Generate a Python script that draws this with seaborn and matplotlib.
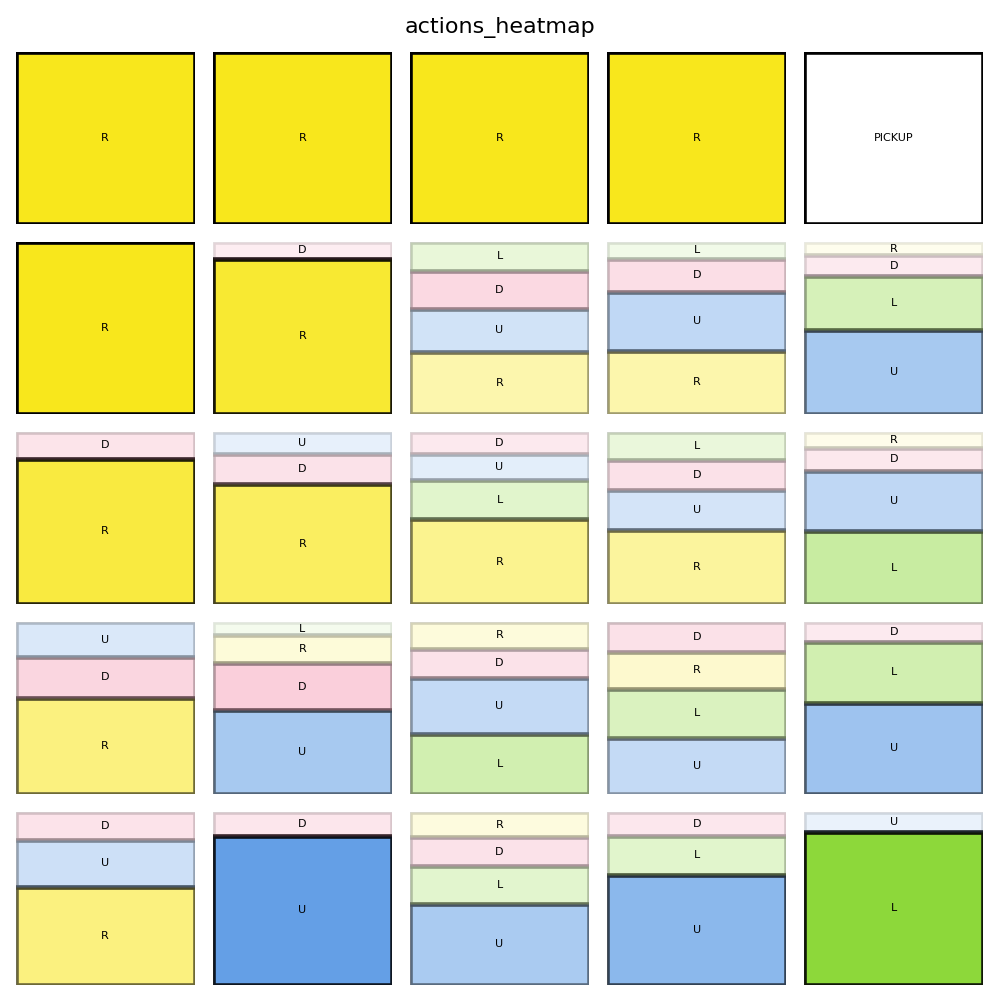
import matplotlib
matplotlib.use("Agg")
import matplotlib.pyplot as plt
import seaborn as sns
import numpy as np

sns.set_theme(style="white")
plt.rcParams['font.family'] = ['DejaVu Sans']

# action order and colours
actions = ["U", "D", "L", "R"]
action_colors = {"U": "#4a90e2", "D": "#ed537f", "L": "#7ed321", "R": "#f8e71c"}

# probabilities per grid cell (rows top->bottom, cols left->right)
probs_U = [
    [0.0, 0.0, 0.0, 0.0, 0.0],
    [0.0, 0.0, 0.25, 0.345, 0.485],
    [0.0, 0.13, 0.152, 0.234, 0.351],
    [0.203, 0.488, 0.326, 0.327, 0.533],
    [0.276, 0.86, 0.467, 0.638, 0.115],
]
probs_D = [
    [0.0, 0.0, 0.0, 0.0, 0.0],
    [0.0, 0.10, 0.22, 0.19, 0.12],
    [0.155, 0.17, 0.127, 0.173, 0.134],
    [0.236, 0.273, 0.169, 0.173, 0.116],
    [0.159, 0.14, 0.17, 0.136, 0.0],
]
probs_L = [
    [0.0, 0.0, 0.0, 0.0, 0.0],
    [0.0, 0.0, 0.17, 0.10, 0.315],
    [0.0, 0.0, 0.228, 0.162, 0.423],
    [0.0, 0.077, 0.351, 0.285, 0.351],
    [0.0, 0.0, 0.219, 0.227, 0.885],
]
probs_R = [
    [1.0, 1.0, 1.0, 1.0, 0.0],
    [1.0, 0.90, 0.36, 0.365, 0.08],
    [0.845, 0.70, 0.493, 0.431, 0.092],
    [0.561, 0.163, 0.155, 0.215, 0.0],
    [0.566, 0.0, 0.144, 0.0, 0.0],
]
pickup_cells = [(0, 4)]
pickup_label = "PICKUP"
title = "actions_heatmap"

probs = {"U": probs_U, "D": probs_D, "L": probs_L, "R": probs_R}

fig = plt.figure(figsize=(10, 10), dpi=100)
axes = fig.subplots(5, 5)
fig.subplots_adjust(left=0.0155, right=0.9835, bottom=0.0155, top=0.9485,
                    wspace=0.1, hspace=0.105)

for r in range(5):
    for c in range(5):
        ax = axes[r][c]
        ax.set_xlim(0, 1)
        ax.set_ylim(0, 1)
        ax.axis("off")
        if (r, c) in pickup_cells:
            ax.bar(0.5, 1.0, width=1.0, bottom=0.0, color="white",
                   edgecolor="black", linewidth=3.3)
            ax.text(0.5, 0.5, pickup_label, ha="center", va="center",
                    fontsize=8, color="black")
            continue
        items = [(a, probs[a][r][c]) for a in actions if probs[a][r][c] > 0]
        items.sort(key=lambda t: -t[1])
        bottom = 0.0
        for a, p in items:
            ax.bar(0.5, p, width=1.0, bottom=bottom, color=action_colors[a],
                   alpha=p, edgecolor="black", linewidth=3.3)
            ax.text(0.5, bottom + p / 2, a, ha="center", va="center",
                    fontsize=8, color="black", zorder=5)
            bottom += p

fig.text(0.5, 0.972, title, ha="center", va="center", fontsize=16,
         color="black")
fig.savefig("out.png", dpi=100)
